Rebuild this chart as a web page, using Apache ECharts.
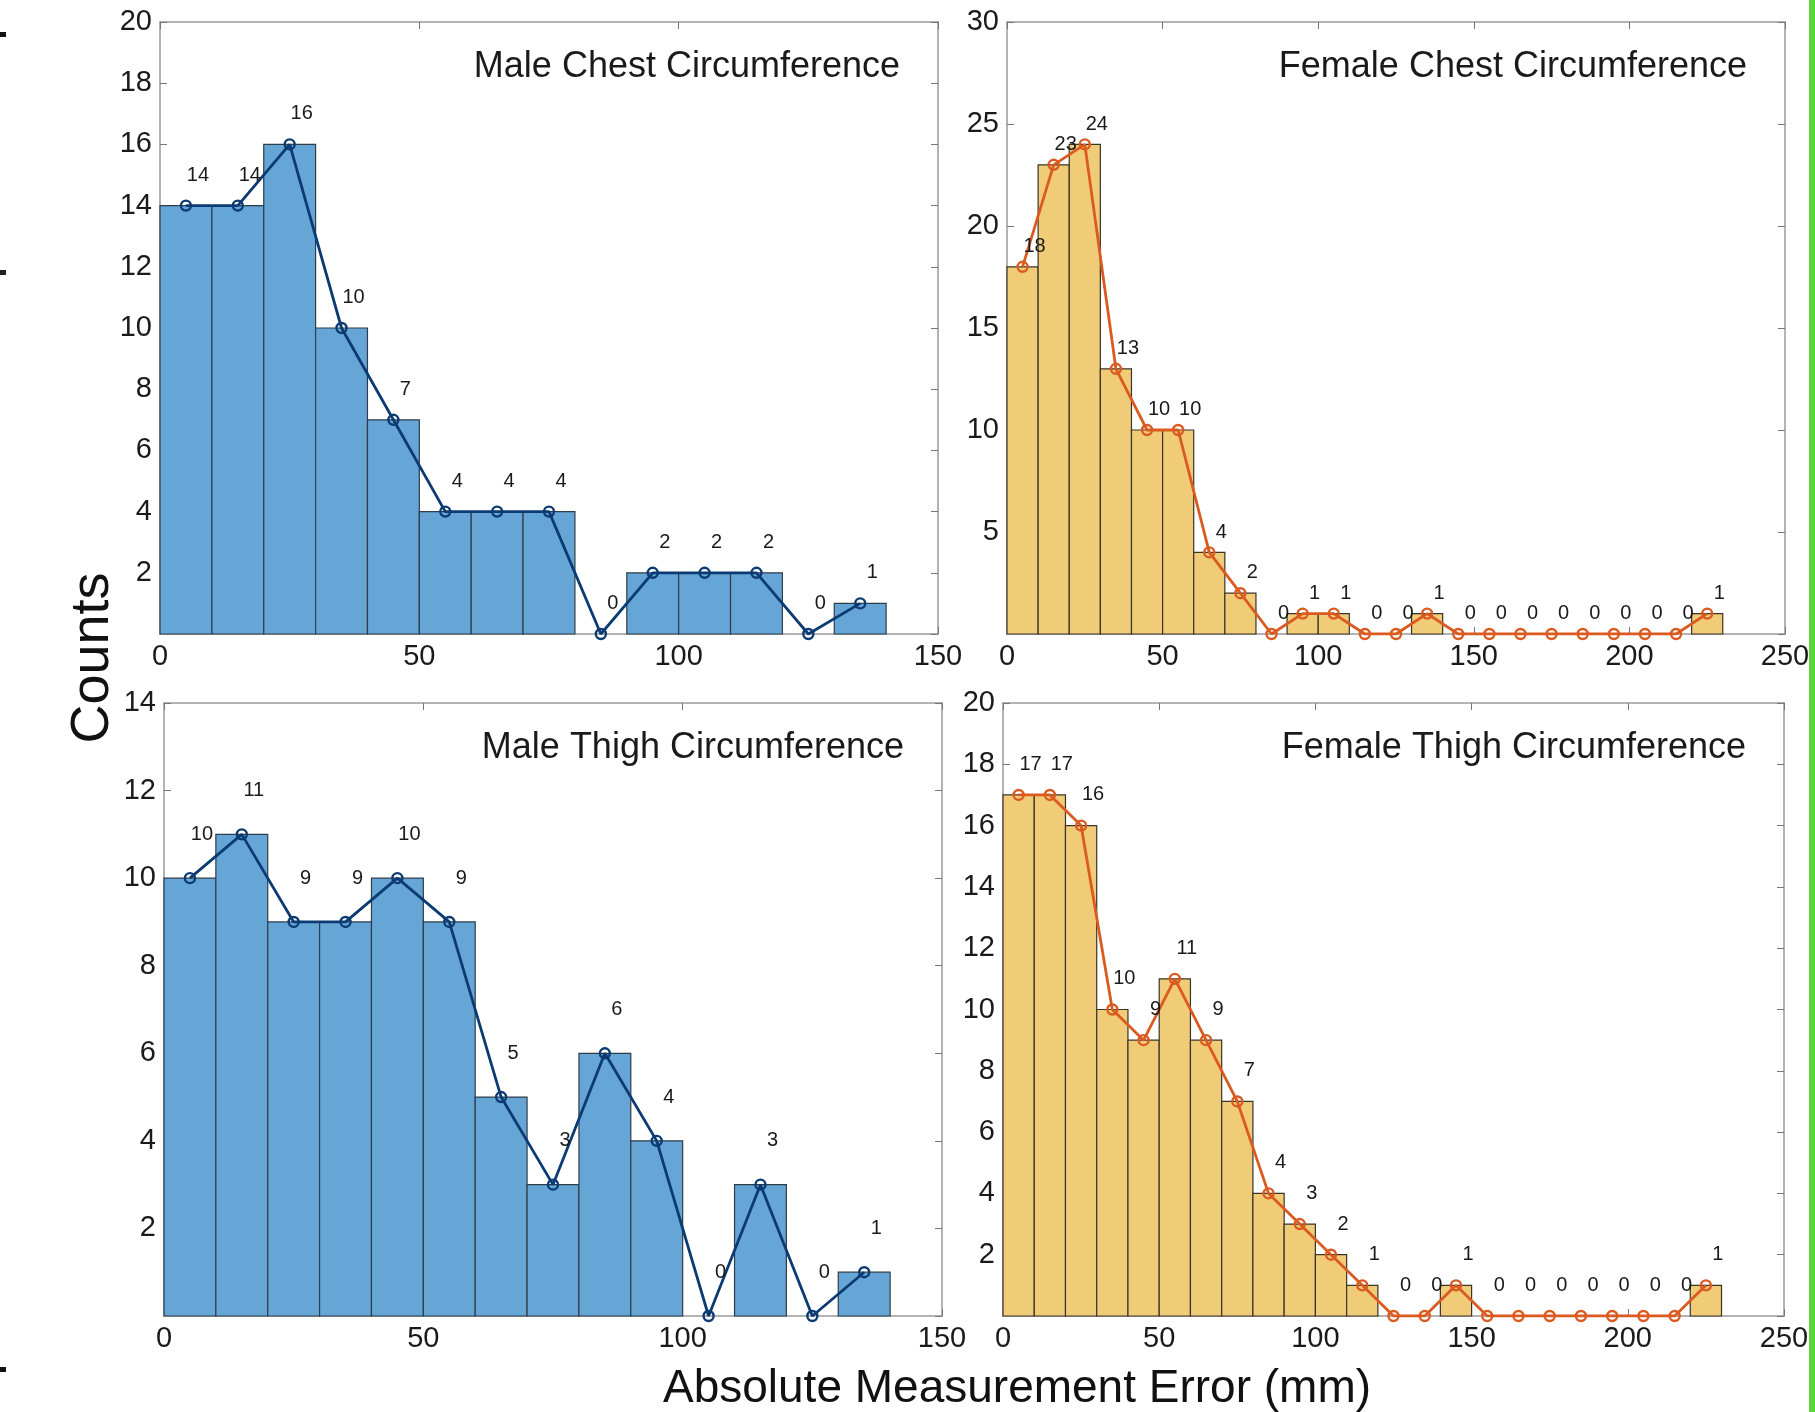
<!DOCTYPE html>
<html>
<head>
<meta charset="utf-8">
<script src="https://cdn.jsdelivr.net/npm/echarts@6/dist/echarts.min.js"></script>
<style>
html,body{margin:0;padding:0;background:#fff;}
#chart{width:1815px;height:1412px;}
</style>
</head>
<body>
<div id="chart"></div>
<script>
// ---- data ----
const binWidth = 10;
const maleBinCenters = [5,15,25,35,45,55,65,75,85,95,105,115,125,135];
const femaleBinCenters = [5,15,25,35,45,55,65,75,85,95,105,115,125,135,145,155,165,175,185,195,205,215,225];

const maleChestCounts  = [14,14,16,10,7,4,4,4,0,2,2,2,0,1];
const femaleChestCounts = [18,23,24,13,10,10,4,2,0,1,1,0,0,1,0,0,0,0,0,0,0,0,1];
const maleThighCounts  = [10,11,9,9,10,9,5,3,6,4,0,3,0,1];
const femaleThighCounts = [17,17,16,10,9,11,9,7,4,3,2,1,0,0,1,0,0,0,0,0,0,0,1];

const panelTitles = ['Male Chest Circumference','Female Chest Circumference','Male Thigh Circumference','Female Thigh Circumference'];
const xAxisTitle = 'Absolute Measurement Error (mm)';
const yAxisTitle = 'Counts';

// ---- styling / layout ----
const BLUE_BAR = '#66a6d6', BLUE_LINE = '#0c3b73', BLUE_EDGE = '#2f3d4a';
const YEL_BAR = '#f0cc78', ORG_LINE = '#db5a20', YEL_EDGE = '#3a3428';
const FONT = '"Liberation Sans", Arial, Helvetica, sans-serif';

const panels = [
  {grid:{left:160, top:22, width:778, height:612}, xMax:150, yMax:20, yInt:2, centers:maleBinCenters, counts:maleChestCounts, bar:BLUE_BAR, line:BLUE_LINE, edge:BLUE_EDGE, title:panelTitles[0]},
  {grid:{left:1007, top:22, width:778, height:612}, xMax:250, yMax:30, yInt:5, centers:femaleBinCenters, counts:femaleChestCounts, bar:YEL_BAR, line:ORG_LINE, edge:YEL_EDGE, title:panelTitles[1]},
  {grid:{left:164, top:703, width:778, height:613}, xMax:150, yMax:14, yInt:2, centers:maleBinCenters, counts:maleThighCounts, bar:BLUE_BAR, line:BLUE_LINE, edge:BLUE_EDGE, title:panelTitles[2]},
  {grid:{left:1003, top:703, width:781, height:613}, xMax:250, yMax:20, yInt:2, centers:femaleBinCenters, counts:femaleThighCounts, bar:YEL_BAR, line:ORG_LINE, edge:YEL_EDGE, title:panelTitles[3]}
];

const grids = [], xAxes = [], yAxes = [], series = [], graphics = [];
const boxColor = '#9a9a9a';

panels.forEach((p, i) => {
  grids.push(Object.assign({containLabel:false}, p.grid));
  const xi = xAxes.length, yi = yAxes.length;
  xAxes.push({type:'value', gridIndex:i, position:'bottom', min:0, max:p.xMax, interval:50,
    axisLine:{show:true, lineStyle:{color:boxColor, width:1.5}},
    axisTick:{show:true, inside:true, length:7, lineStyle:{color:'#777'}},
    axisLabel:{color:'#1a1a1a', fontSize:29, fontFamily:FONT, margin:8},
    splitLine:{show:false}});
  xAxes.push({type:'value', gridIndex:i, position:'top', min:0, max:p.xMax, interval:50,
    axisLine:{show:true, onZero:false, lineStyle:{color:boxColor, width:1.5}},
    axisTick:{show:true, inside:true, length:7, lineStyle:{color:'#777'}},
    axisLabel:{show:false}, splitLine:{show:false}});
  yAxes.push({type:'value', gridIndex:i, position:'left', min:0, max:p.yMax, interval:p.yInt,
    axisLine:{show:true, lineStyle:{color:boxColor, width:1.5}},
    axisTick:{show:true, inside:true, length:7, lineStyle:{color:'#777'}},
    axisLabel:{color:'#1a1a1a', fontSize:29, fontFamily:FONT, margin:8, showMinLabel:false,
      formatter: v => v === 0 ? '' : String(v)},
    splitLine:{show:false}});
  yAxes.push({type:'value', gridIndex:i, position:'right', min:0, max:p.yMax, interval:p.yInt,
    axisLine:{show:true, onZero:false, lineStyle:{color:boxColor, width:1.5}},
    axisTick:{show:true, inside:true, length:7, lineStyle:{color:'#777'}},
    axisLabel:{show:false}, splitLine:{show:false}});

  const pts = p.centers.map((c, k) => [c, p.counts[k]]);
  series.push({type:'custom', xAxisIndex:xi, yAxisIndex:yi, data:pts, encode:{x:0, y:1}, z:2,
    renderItem: (params, api) => {
      const x = api.value(0), y = api.value(1);
      if (!y) return null;
      const a = api.coord([x - binWidth/2, y]);
      const b = api.coord([x + binWidth/2, 0]);
      return {type:'rect', shape:{x:a[0], y:a[1], width:b[0]-a[0], height:b[1]-a[1]},
        style:{fill:p.bar, stroke:p.edge, lineWidth:1.2}};
    }});
  const unitPx = p.grid.height / p.yMax;
  series.push({type:'line', xAxisIndex:xi, yAxisIndex:yi, data:pts, z:5,
    symbol:'circle', symbolSize:10,
    lineStyle:{color:p.line, width:2.8},
    itemStyle:{color:'rgba(0,0,0,0)', borderColor:p.line, borderWidth:2.4},
    label:{show:true, position:'inside', offset:[12, -unitPx], color:'#1a1a1a', fontSize:20, fontFamily:FONT,
      formatter: d => String(d.value[1])},
    emphasis:{disabled:true}, animation:false});

  graphics.push({type:'text', right: 1815 - (p.grid.left + p.grid.width) + 38, top: p.grid.top + 27,
    style:{text:p.title, font:'36px ' + FONT, fill:'#1a1a1a'}});
});

graphics.push({type:'text', x:1017, y:1389, style:{text:xAxisTitle, font:'46px ' + FONT, fill:'#111', textAlign:'center', textVerticalAlign:'middle'}});
graphics.push({type:'text', x:93, y:658, rotation:Math.PI/2, style:{text:yAxisTitle, font:'54px ' + FONT, fill:'#111', textAlign:'center', textVerticalAlign:'middle'}});
graphics.push({type:'rect', shape:{x:0, y:32, width:6, height:5}, style:{fill:'#111'}});
graphics.push({type:'rect', shape:{x:0, y:270, width:6, height:5}, style:{fill:'#222'}});
graphics.push({type:'rect', shape:{x:0, y:1367, width:6, height:5}, style:{fill:'#111'}});
graphics.push({type:'rect', shape:{x:1809, y:0, width:6, height:1412}, style:{fill:'#5fd33a'}});

const chart = echarts.init(document.getElementById('chart'), null, {renderer:'canvas'});
chart.setOption({
  animation:false,
  backgroundColor:'#fff',
  grid:grids, xAxis:xAxes, yAxis:yAxes, series:series, graphic:graphics
});
</script>
</body>
</html>
